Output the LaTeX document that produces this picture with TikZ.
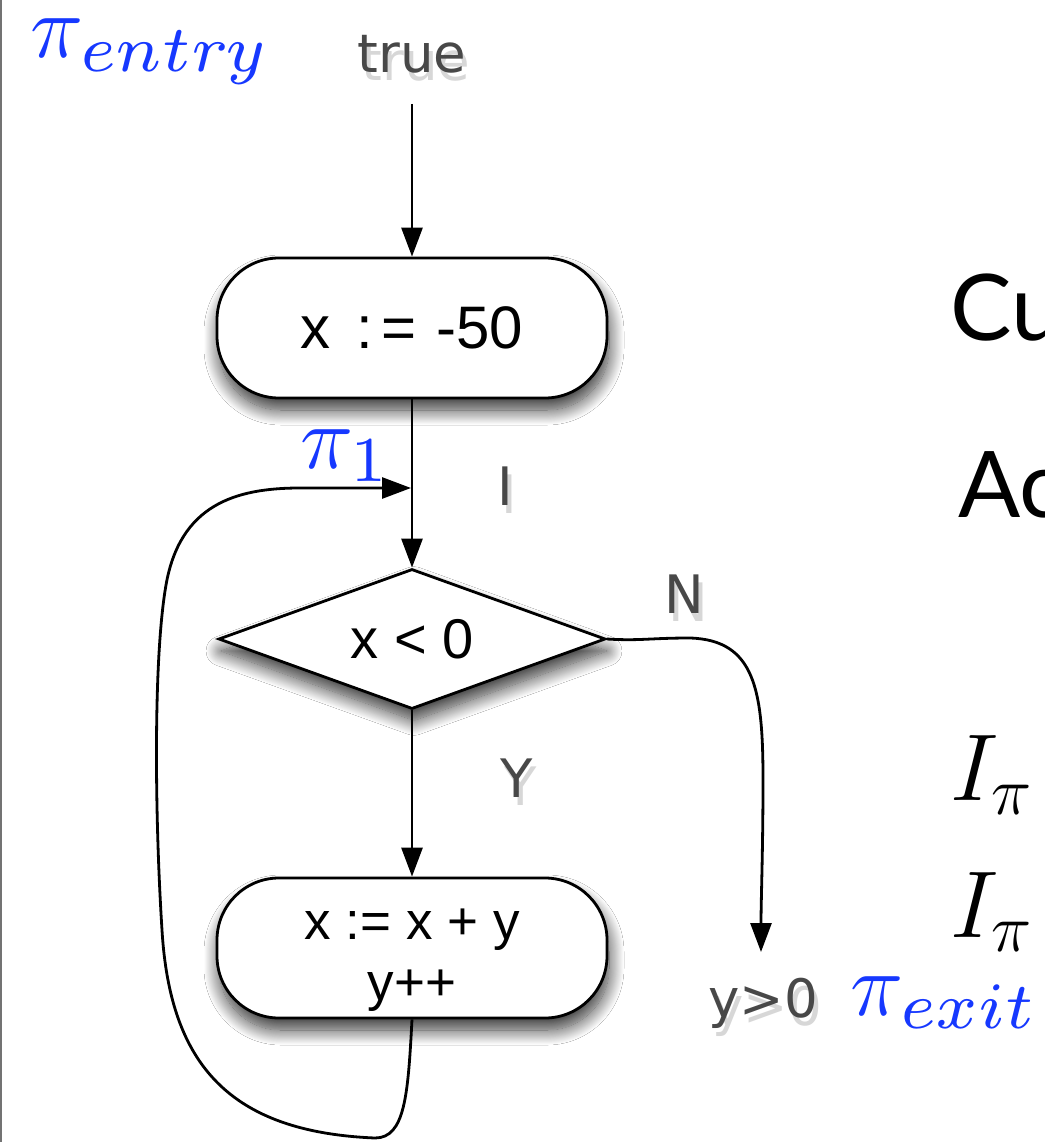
\RequirePackage{fix-cm}
\documentclass[tikz,border=0pt]{standalone}
\usepackage[no-math]{fontspec}
\setmainfont{Liberation Sans}
\newfontfamily\labelfont{DejaVu Sans}
\newfontfamily\slidefont{Lato}
\usetikzlibrary{shapes.geometric,arrows.meta,shadows.blur}
\DeclareMathSizes{90}{90}{66}{50}
\DeclareMathSizes{95}{95}{68}{50}
\font\subfont=cmmi7 at 66pt
\font\subnum=cmr7 at 64pt
\definecolor{piblue}{RGB}{22,56,255}
\definecolor{labelgrey}{RGB}{72,72,72}
\definecolor{shadowgrey}{RGB}{215,215,215}
\definecolor{rulegrey}{RGB}{115,115,115}
\newcommand{\shd}[1]{\makebox[0pt][l]{\hspace{4pt}\raisebox{-8pt}{\color{shadowgrey}#1}}{\color{labelgrey}#1}}
\newcommand{\pisub}[1]{$\pi_{\hbox{#1}}$}
\begin{document}
\begin{tikzpicture}[x=1pt,y=-1pt,
  flow/.style={draw=black, line width=2.8pt, fill=white,
    blur shadow={shadow xshift=2pt, shadow yshift=-12pt, shadow blur radius=15pt, shadow opacity=80, shadow blur steps=20}},
  stadium/.style={flow, rectangle, rounded corners=62pt, minimum width=390pt, minimum height=140pt, inner sep=0pt},
  decision/.style={flow, diamond, aspect=2.76, minimum width=387pt, minimum height=140pt, inner sep=0pt},
  conn/.style={line width=2.8pt, -{Triangle[length=29pt,width=21pt]}},
  lbl/.style={inner sep=0pt, anchor=base, font=\labelfont\fontsize{53}{60}\selectfont},
  pilab/.style={inner sep=0pt, anchor=base west, text=piblue, font=\fontsize{90}{100}\selectfont},
  bigmath/.style={inner sep=0pt, anchor=base west, font=\fontsize{95}{100}\selectfont},
  slide/.style={inner sep=0pt, anchor=base west, font=\slidefont\fontsize{92}{100}\selectfont},
]
\useasboundingbox (0,0) rectangle (1044,1142);
\fill[white] (0,0) rectangle (1044,1142);
\coordinate (rtop) at (1,0);
\coordinate (rbot) at (1,1142);
\draw[rulegrey, line width=2.2pt] (rtop) -- (rbot);

% nodes
\node[stadium, font=\fontsize{60}{66}\selectfont] (init) at (412,328) {x\hspace{26pt}:\hspace{8pt}=\hspace{20pt}-50};
\node[decision, font=\fontsize{56}{60}\selectfont] (test) at (412,639) {x < 0};
\node[stadium, font=\fontsize{53}{61}\selectfont, align=center, text height=114pt, text depth=10pt] (body) at (412,948) {x := x + y\\y++};

\coordinate (entry) at (412,104);
\coordinate (join) at (411,488);
\coordinate (exitpt) at (761,952);

% connectors
\draw[conn] (entry) -- (init.north);
\draw[conn] (init.south) -- (test.north);
\draw[conn] (test.south) -- (body.north);
\draw[conn] (test.east) .. controls (640,641) and (650,638) .. (690,638)
  .. controls (755,640) and (763,690) .. (763,780)
  .. controls (763,850) and (761,900) .. (exitpt);
\draw[conn] (body.south) .. controls (408,1095) and (405,1138) .. (375,1138)
  .. controls (230,1132) and (170,1065) .. (162,930)
  .. controls (155,820) and (153,660) .. (166,585)
  .. controls (180,505) and (235,488) .. (300,488) -- (join);

% labels
\node[lbl] (ltrue) at (412,73) {\shd{true}};
\node[lbl] (lI) at (505,505) {\shd{I}};
\node[lbl] (lN) at (684,613) {\shd{N}};
\node[lbl] (lY) at (517,797) {\shd{Y}};
\node[lbl] (lcond) at (763,1017) {\shd{y>0}};

\node[pilab] (pentry) at (30,58) {\pisub{\subfont entry}};
\node[pilab] (pone) at (300,468) {\pisub{\subnum 1}};
\node[pilab] (pexit) at (850,1015) {\pisub{\subfont exit}};

\node[slide] (cu) at (950,340) {Cu};
\node[slide] (ac) at (958,517) {Ac};
\node[bigmath] (ione) at (950,800) {$I_\pi$};
\node[bigmath] (itwo) at (950,937) {$I_\pi$};
\end{tikzpicture}
\end{document}
